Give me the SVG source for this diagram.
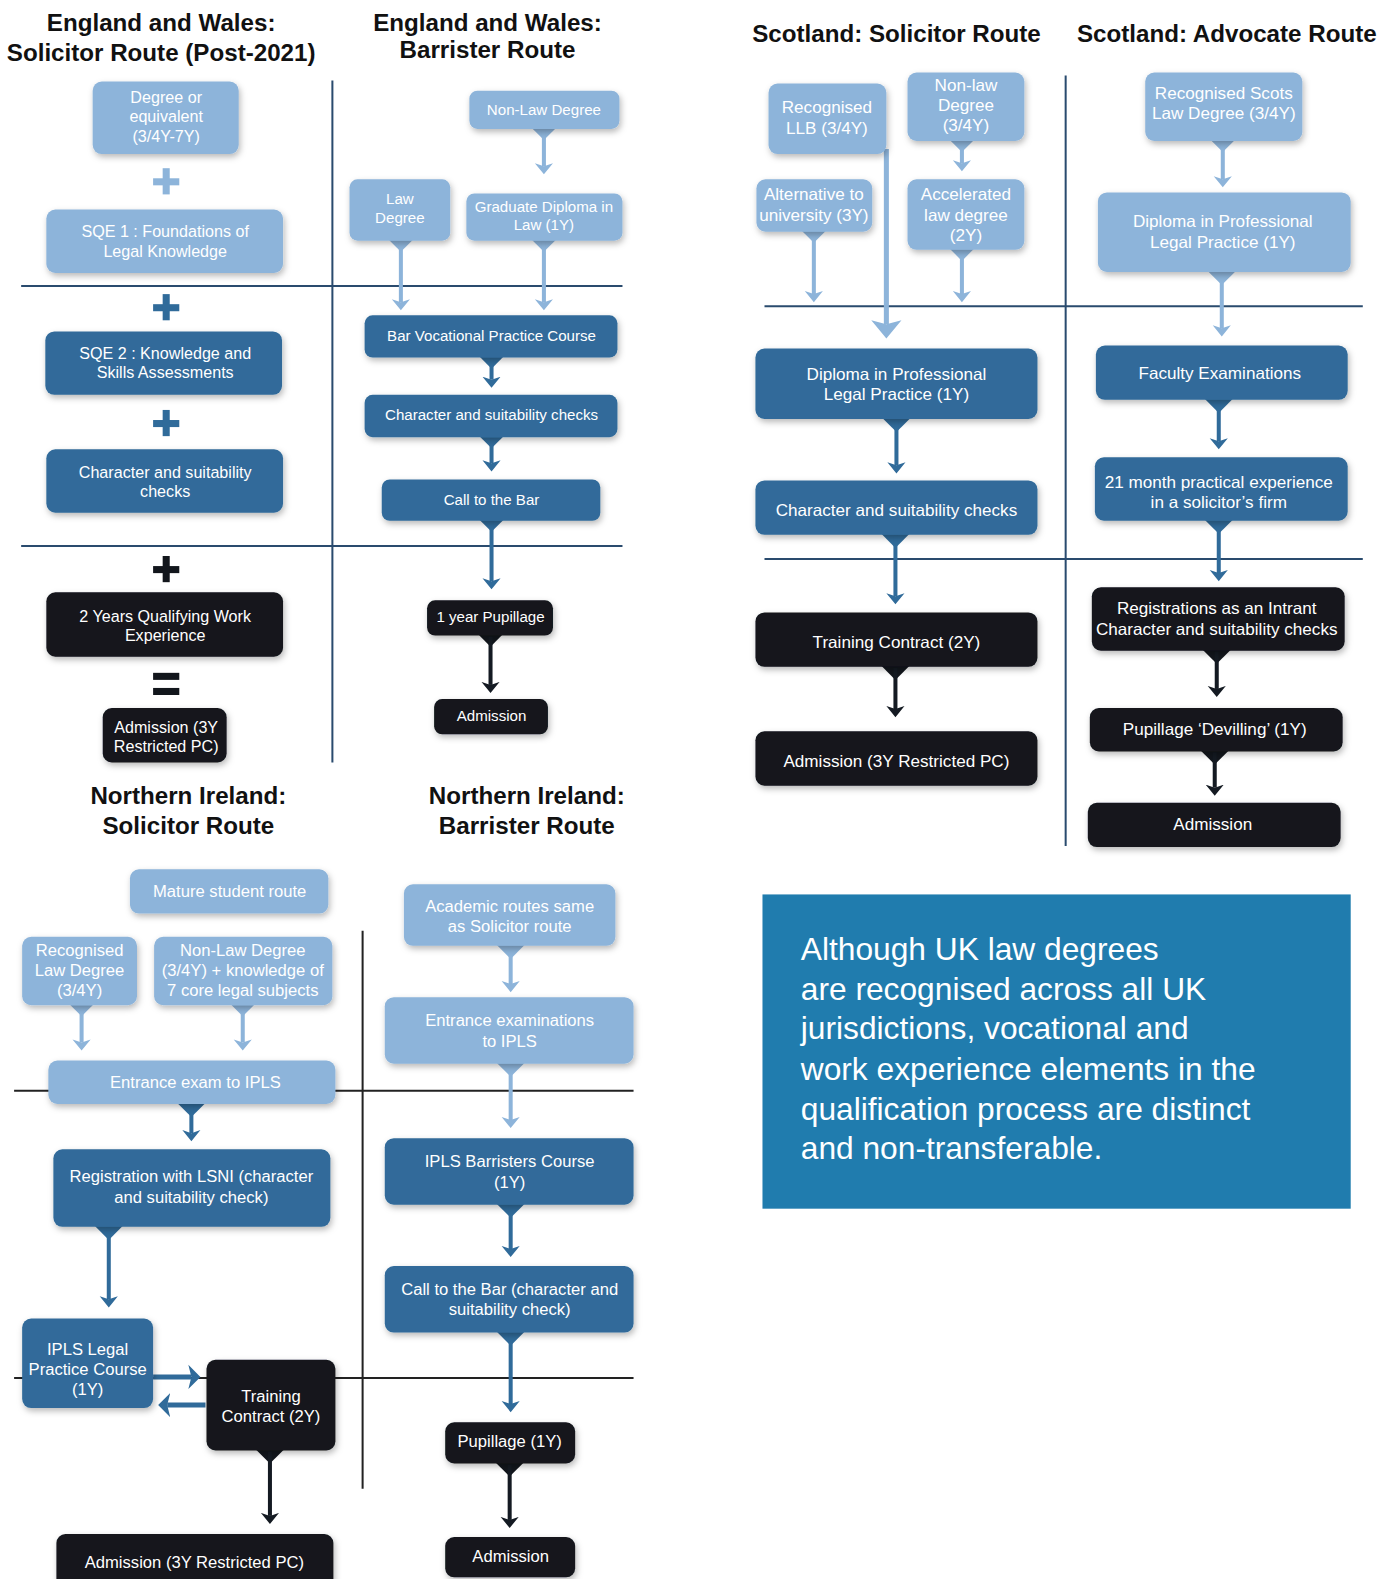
<svg xmlns="http://www.w3.org/2000/svg" width="1392" height="1579" viewBox="0 0 1392 1579">
<style>
.lt{fill:#8db4da}
.dk{fill:#306b9a}
.bk{fill:#12161c}
.t{font-family:"Liberation Sans",Arial,sans-serif;fill:#fff;text-anchor:middle}
.h{font-family:"Liberation Sans",Arial,sans-serif;font-weight:bold;font-size:24px;fill:#111;text-anchor:middle}
.f15{font-size:15px}.f16{font-size:16px}.f165{font-size:16.5px}.f17{font-size:17px}
.dv{stroke:#2a4b6e;stroke-width:2}
.dvk{stroke:#222;stroke-width:2}
.cl{stroke:#8db4da;stroke-width:4;fill:none}
.cd{stroke:#306b9a;stroke-width:4;fill:none}
.cb{stroke:#141a22;stroke-width:4;fill:none}
.bx{filter:url(#sh)}
</style>
<defs>
<filter id="sh" x="-10%" y="-10%" width="125%" height="135%">
<feDropShadow dx="1.5" dy="3" stdDeviation="3" flood-color="#000" flood-opacity="0.28"/>
</filter>
<marker id="mL" markerUnits="userSpaceOnUse" viewBox="0 -10 12 20" markerWidth="12" markerHeight="20" refX="3" refY="0" orient="auto"><path d="M0,-9 L3,0 L0,9 L11,0 Z" fill="#8db4da"/></marker>
<marker id="mD" markerUnits="userSpaceOnUse" viewBox="0 -10 12 20" markerWidth="12" markerHeight="20" refX="3" refY="0" orient="auto"><path d="M0,-9 L3,0 L0,9 L11,0 Z" fill="#306b9a"/></marker>
<marker id="mB" markerUnits="userSpaceOnUse" viewBox="0 -10 12 20" markerWidth="12" markerHeight="20" refX="3" refY="0" orient="auto"><path d="M0,-9 L3,0 L0,9 L11,0 Z" fill="#141a22"/></marker>
<marker id="mLB" markerUnits="userSpaceOnUse" viewBox="0 -16 20 32" markerWidth="20" markerHeight="32" refX="4" refY="0" orient="auto"><path d="M0,-15 L4,0 L0,15 L18,0 Z" fill="#8db4da"/></marker>
<marker id="mDH" markerUnits="userSpaceOnUse" viewBox="0 -13 14 26" markerWidth="14" markerHeight="26" refX="3" refY="0" orient="auto"><path d="M0,-12 L3,0 L0,12 L12,0 Z" fill="#306b9a"/></marker>
</defs>
<rect width="1392" height="1579" fill="#fff"/>
<g transform="scale(1.00724)">

<g id="titles">
<text class="h" x="160" y="31">England and Wales:</text>
<text class="h" x="160" y="61">Solicitor Route (Post-2021)</text>
<text class="h" x="484" y="31">England and Wales:</text>
<text class="h" x="484" y="58">Barrister Route</text>
<text class="h" x="890" y="42">Scotland: Solicitor Route</text>
<text class="h" x="1218" y="42">Scotland: Advocate Route</text>
<text class="h" x="187" y="798">Northern Ireland:</text>
<text class="h" x="187" y="828">Solicitor Route</text>
<text class="h" x="523" y="798">Northern Ireland:</text>
<text class="h" x="523" y="828">Barrister Route</text>
</g>

<g id="dividers">
<line class="dv" x1="330" y1="80" x2="330" y2="757"/>
<line class="dv" x1="21" y1="284" x2="618" y2="284"/>
<line class="dv" x1="21" y1="542" x2="618" y2="542"/>
<line class="dv" x1="1058" y1="75" x2="1058" y2="840"/>
<line class="dv" x1="759" y1="304" x2="1353" y2="304"/>
<line class="dv" x1="759" y1="555" x2="1353" y2="555"/>
<line class="dvk" x1="360" y1="924" x2="360" y2="1478"/>
<line class="dvk" x1="14" y1="1083" x2="629" y2="1083"/>
<line class="dvk" x1="14" y1="1368" x2="629" y2="1368"/>
</g>

<g id="operators">
<rect x="152" y="177" width="26" height="7" class="lt"/><rect x="161.5" y="167" width="7" height="26" class="lt"/>
<rect x="152" y="302" width="26" height="7" class="dk"/><rect x="161.5" y="292" width="7" height="26" class="dk"/>
<rect x="152" y="417" width="26" height="7" class="dk"/><rect x="161.5" y="407" width="7" height="26" class="dk"/>
<rect x="152" y="562" width="26" height="7" class="bk"/><rect x="161.5" y="552" width="7" height="26" class="bk"/>
<rect x="152" y="668" width="26" height="7" class="bk"/><rect x="152" y="683" width="26" height="7" class="bk"/>
</g>

<g id="connectors">
<!-- E&W barrister -->
<polygon class="lt" points="528,127 552,127 540,139"/><line class="cl" x1="540" y1="130" x2="540" y2="165" marker-end="url(#mL)"/>
<polygon class="lt" points="386,238 410,238 398,250"/><line class="cl" x1="398" y1="240" x2="398" y2="300" marker-end="url(#mL)"/>
<polygon class="lt" points="528,238 552,238 540,250"/><line class="cl" x1="540" y1="240" x2="540" y2="300" marker-end="url(#mL)"/>
<polygon class="dk" points="476,354 500,354 488,366"/><line class="cd" x1="488" y1="356" x2="488" y2="377" marker-end="url(#mD)"/>
<polygon class="dk" points="476,433 500,433 488,445"/><line class="cd" x1="488" y1="435" x2="488" y2="460" marker-end="url(#mD)"/>
<polygon class="dk" points="476,516 500,516 488,528"/><line class="cd" x1="488" y1="518" x2="488" y2="577" marker-end="url(#mD)"/>
<polygon class="bk" points="475,630 499,630 487,642"/><line class="cb" x1="487" y1="632" x2="487" y2="680" marker-end="url(#mB)"/>
<!-- Scotland solicitor -->
<polygon class="lt" points="943,139 967,139 955,151"/><line class="cl" x1="955" y1="141" x2="955" y2="162" marker-end="url(#mL)"/>
<polygon class="lt" points="796,229 820,229 808,241"/><line class="cl" x1="808" y1="231" x2="808" y2="292" marker-end="url(#mL)"/>
<polygon class="lt" points="943,247 967,247 955,259"/><line class="cl" x1="955" y1="249" x2="955" y2="292" marker-end="url(#mL)"/>
<line class="cl" style="stroke-width:5" x1="880" y1="148" x2="880" y2="322" marker-end="url(#mLB)"/>
<polygon class="dk" points="876,415 904,415 890,429"/><line class="cd" x1="890" y1="417" x2="890" y2="462" marker-end="url(#mD)"/>
<polygon class="dk" points="875,530 903,530 889,544"/><line class="cd" x1="889" y1="532" x2="889" y2="592" marker-end="url(#mD)"/>
<polygon class="bk" points="875,661 903,661 889,675"/><line class="cb" x1="889" y1="663" x2="889" y2="704" marker-end="url(#mB)"/>
<!-- Scotland advocate -->
<polygon class="lt" points="1202,139 1226,139 1214,151"/><line class="cl" x1="1214" y1="141" x2="1214" y2="178" marker-end="url(#mL)"/>
<polygon class="lt" points="1199,269 1227,269 1213,283"/><line class="cl" x1="1213" y1="271" x2="1213" y2="326" marker-end="url(#mL)"/>
<polygon class="dk" points="1196,396 1224,396 1210,410"/><line class="cd" x1="1210" y1="398" x2="1210" y2="438" marker-end="url(#mD)"/>
<polygon class="dk" points="1196,516 1224,516 1210,530"/><line class="cd" x1="1210" y1="518" x2="1210" y2="569" marker-end="url(#mD)"/>
<polygon class="bk" points="1194,645 1222,645 1208,659"/><line class="cb" x1="1208" y1="647" x2="1208" y2="684" marker-end="url(#mB)"/>
<polygon class="bk" points="1192,745 1220,745 1206,759"/><line class="cb" x1="1206" y1="747" x2="1206" y2="782" marker-end="url(#mB)"/>
<!-- NI solicitor -->
<polygon class="lt" points="69,997 93,997 81,1009"/><line class="cl" x1="81" y1="999" x2="81" y2="1035" marker-end="url(#mL)"/>
<polygon class="lt" points="229,997 253,997 241,1009"/><line class="cl" x1="241" y1="999" x2="241" y2="1035" marker-end="url(#mL)"/>
<polygon class="dk" points="176,1095 204,1095 190,1109"/><line class="cd" x1="190" y1="1097" x2="190" y2="1125" marker-end="url(#mD)"/>
<polygon class="dk" points="94,1217 122,1217 108,1231"/><line class="cd" x1="108" y1="1219" x2="108" y2="1290" marker-end="url(#mD)"/>
<line class="cd" style="stroke-width:5" x1="152" y1="1367" x2="190" y2="1367" marker-end="url(#mDH)"/>
<line class="cd" style="stroke-width:5" x1="204" y1="1395" x2="166" y2="1395" marker-end="url(#mDH)"/>
<polygon class="bk" points="254,1439 282,1439 268,1453"/><line class="cb" x1="268" y1="1441" x2="268" y2="1505" marker-end="url(#mB)"/>
<!-- NI barrister -->
<polygon class="lt" points="493,938 521,938 507,952"/><line class="cl" x1="507" y1="940" x2="507" y2="977" marker-end="url(#mL)"/>
<polygon class="lt" points="493,1055 521,1055 507,1069"/><line class="cl" x1="507" y1="1057" x2="507" y2="1112" marker-end="url(#mL)"/>
<polygon class="dk" points="493,1195 521,1195 507,1209"/><line class="cd" x1="507" y1="1197" x2="507" y2="1240" marker-end="url(#mD)"/>
<polygon class="dk" points="493,1322 521,1322 507,1336"/><line class="cd" x1="507" y1="1324" x2="507" y2="1394" marker-end="url(#mD)"/>
<polygon class="bk" points="492,1452 520,1452 506,1466"/><line class="cb" x1="506" y1="1454" x2="506" y2="1509" marker-end="url(#mB)"/>
</g>

<!-- England & Wales solicitor -->
<g id="ew-sol-degree"><rect class="lt bx" x="92" y="81" width="145" height="72" rx="9"/><text class="t f16" x="165" y="102.5">Degree or</text><text class="t f16" x="165" y="121.5">equivalent</text><text class="t f16" x="165" y="140.5">(3/4Y-7Y)</text></g>
<g id="ew-sol-sqe1"><rect class="lt bx" x="46" y="208" width="235" height="63" rx="9"/><text class="t f16" x="164" y="235.5">SQE 1 : Foundations of</text><text class="t f16" x="164" y="255.5">Legal Knowledge</text></g>
<g id="ew-sol-sqe2"><rect class="dk bx" x="45" y="329" width="235" height="63" rx="9"/><text class="t f16" x="164" y="356.5">SQE 2 : Knowledge and</text><text class="t f16" x="164" y="375.5">Skills Assessments</text></g>
<g id="ew-sol-character"><rect class="dk bx" x="46" y="446" width="235" height="63" rx="9"/><text class="t f16" x="164" y="474.5">Character and suitability</text><text class="t f16" x="164" y="493.5">checks</text></g>
<g id="ew-sol-qwe"><rect class="bk bx" x="46" y="588" width="235" height="64" rx="9"/><text class="t f16" x="164" y="617.5">2 Years Qualifying Work</text><text class="t f16" x="164" y="636.5">Experience</text></g>
<g id="ew-sol-admission"><rect class="bk bx" x="102" y="703" width="123" height="54" rx="9"/><text class="t f16" x="165" y="727.5">Admission (3Y</text><text class="t f16" x="165" y="746.5">Restricted PC)</text></g>

<!-- England & Wales barrister -->
<g id="ew-bar-nonlaw"><rect class="lt bx" x="466" y="90" width="149" height="38" rx="8"/><text class="t f15" x="540" y="114">Non-Law Degree</text></g>
<g id="ew-bar-law"><rect class="lt bx" x="347" y="178" width="100" height="61" rx="8"/><text class="t f15" x="397" y="203">Law</text><text class="t f15" x="397" y="221">Degree</text></g>
<g id="ew-bar-gdl"><rect class="lt bx" x="463" y="192" width="155" height="47" rx="8"/><text class="t f15" x="540" y="210">Graduate Diploma in</text><text class="t f15" x="540" y="228">Law (1Y)</text></g>
<g id="ew-bar-bvpc"><rect class="dk bx" x="362" y="313" width="251" height="42" rx="8"/><text class="t f15" x="488" y="339">Bar Vocational Practice Course</text></g>
<g id="ew-bar-character"><rect class="dk bx" x="362" y="392" width="251" height="42" rx="8"/><text class="t f15" x="488" y="417">Character and suitability checks</text></g>
<g id="ew-bar-call"><rect class="dk bx" x="379" y="476" width="217" height="41" rx="8"/><text class="t f15" x="488" y="501">Call to the Bar</text></g>
<g id="ew-bar-pupillage"><rect class="bk bx" x="424" y="596" width="125" height="35" rx="8"/><text class="t f15" x="487" y="618">1 year Pupillage</text></g>
<g id="ew-bar-admission"><rect class="bk bx" x="431" y="694" width="113" height="35" rx="8"/><text class="t f15" x="488" y="716">Admission</text></g>

<!-- Scotland solicitor -->
<g id="sc-sol-llb"><rect class="lt bx" x="763" y="83" width="117" height="70" rx="9"/><text class="t f17" x="821" y="112">Recognised</text><text class="t f17" x="821" y="133">LLB (3/4Y)</text></g>
<g id="sc-sol-nonlaw"><rect class="lt bx" x="901" y="72" width="116" height="68" rx="9"/><text class="t f17" x="959" y="90">Non-law</text><text class="t f17" x="959" y="110">Degree</text><text class="t f17" x="959" y="130">(3/4Y)</text></g>
<g id="sc-sol-alt"><rect class="lt bx" x="751" y="178" width="115" height="52" rx="9"/><text class="t f17" x="808" y="199">Alternative to</text><text class="t f17" x="808" y="219">university (3Y)</text></g>
<g id="sc-sol-accel"><rect class="lt bx" x="901" y="178" width="116" height="70" rx="9"/><text class="t f17" x="959" y="199">Accelerated</text><text class="t f17" x="959" y="219">law degree</text><text class="t f17" x="959" y="239">(2Y)</text></g>
<g id="sc-sol-diploma"><rect class="dk bx" x="750" y="346" width="280" height="70" rx="9"/><text class="t f17" x="890" y="377">Diploma in Professional</text><text class="t f17" x="890" y="397">Legal Practice (1Y)</text></g>
<g id="sc-sol-character"><rect class="dk bx" x="750" y="477" width="280" height="54" rx="9"/><text class="t f17" x="890" y="512">Character and suitability checks</text></g>
<g id="sc-sol-training"><rect class="bk bx" x="750" y="608" width="280" height="54" rx="9"/><text class="t f17" x="890" y="643">Training Contract (2Y)</text></g>
<g id="sc-sol-admission"><rect class="bk bx" x="750" y="726" width="280" height="54" rx="9"/><text class="t f17" x="890" y="761">Admission (3Y Restricted PC)</text></g>

<!-- Scotland advocate -->
<g id="sc-adv-degree"><rect class="lt bx" x="1137" y="72" width="156" height="68" rx="9"/><text class="t f17" x="1215" y="98">Recognised Scots</text><text class="t f17" x="1215" y="118">Law Degree (3/4Y)</text></g>
<g id="sc-adv-diploma"><rect class="lt bx" x="1090" y="191" width="251" height="79" rx="9"/><text class="t f17" x="1214" y="225">Diploma in Professional</text><text class="t f17" x="1214" y="246">Legal Practice (1Y)</text></g>
<g id="sc-adv-faculty"><rect class="dk bx" x="1088" y="343" width="250" height="54" rx="9"/><text class="t f17" x="1211" y="376">Faculty Examinations</text></g>
<g id="sc-adv-practical"><rect class="dk bx" x="1087" y="454" width="251" height="63" rx="9"/><text class="t f17" x="1210" y="484">21 month practical experience</text><text class="t f17" x="1210" y="504">in a solicitor’s firm</text></g>
<g id="sc-adv-intrant"><rect class="bk bx" x="1084" y="583" width="251" height="63" rx="9"/><text class="t f17" x="1208" y="610">Registrations as an Intrant</text><text class="t f17" x="1208" y="630">Character and suitability checks</text></g>
<g id="sc-adv-devilling"><rect class="bk bx" x="1082" y="703" width="251" height="43" rx="9"/><text class="t f17" x="1206" y="730">Pupillage ‘Devilling’ (1Y)</text></g>
<g id="sc-adv-admission"><rect class="bk bx" x="1080" y="797" width="251" height="44" rx="9"/><text class="t f17" x="1204" y="824">Admission</text></g>

<!-- Northern Ireland solicitor -->
<g id="ni-sol-mature"><rect class="lt bx" x="129" y="863" width="197" height="44" rx="9"/><text class="t f165" x="228" y="891">Mature student route</text></g>
<g id="ni-sol-law"><rect class="lt bx" x="22" y="930" width="114" height="68" rx="9"/><text class="t f165" x="79" y="949">Recognised</text><text class="t f165" x="79" y="969">Law Degree</text><text class="t f165" x="79" y="989">(3/4Y)</text></g>
<g id="ni-sol-nonlaw"><rect class="lt bx" x="153" y="930" width="177" height="68" rx="9"/><text class="t f165" x="241" y="949">Non-Law Degree</text><text class="t f165" x="241" y="969">(3/4Y) + knowledge of</text><text class="t f165" x="241" y="989">7 core legal subjects</text></g>
<g id="ni-sol-entrance"><rect class="lt bx" x="48" y="1053" width="285" height="43" rx="9"/><text class="t f165" x="194" y="1080">Entrance exam to IPLS</text></g>
<g id="ni-sol-lsni"><rect class="dk bx" x="53" y="1141" width="275" height="77" rx="9"/><text class="t f165" x="190" y="1174">Registration with LSNI (character</text><text class="t f165" x="190" y="1194">and suitability check)</text></g>
<g id="ni-sol-lpc"><rect class="dk bx" x="22" y="1309" width="130" height="89" rx="9"/><text class="t f165" x="87" y="1345">IPLS Legal</text><text class="t f165" x="87" y="1365">Practice Course</text><text class="t f165" x="87" y="1385">(1Y)</text></g>
<g id="ni-sol-training"><rect class="bk bx" x="205" y="1350" width="128" height="90" rx="9"/><text class="t f165" x="269" y="1392">Training</text><text class="t f165" x="269" y="1412">Contract (2Y)</text></g>
<g id="ni-sol-admission"><rect class="bk bx" x="56" y="1523" width="275" height="70" rx="9"/><text class="t f165" x="193" y="1557">Admission (3Y Restricted PC)</text></g>

<!-- Northern Ireland barrister -->
<g id="ni-bar-academic"><rect class="lt bx" x="401" y="878" width="210" height="61" rx="9"/><text class="t f165" x="506" y="905">Academic routes same</text><text class="t f165" x="506" y="925">as Solicitor route</text></g>
<g id="ni-bar-entrance"><rect class="lt bx" x="382" y="990" width="247" height="66" rx="9"/><text class="t f165" x="506" y="1019">Entrance examinations</text><text class="t f165" x="506" y="1039">to IPLS</text></g>
<g id="ni-bar-course"><rect class="dk bx" x="382" y="1130" width="247" height="66" rx="9"/><text class="t f165" x="506" y="1159">IPLS Barristers Course</text><text class="t f165" x="506" y="1179">(1Y)</text></g>
<g id="ni-bar-call"><rect class="dk bx" x="382" y="1257" width="247" height="66" rx="9"/><text class="t f165" x="506" y="1286">Call to the Bar (character and</text><text class="t f165" x="506" y="1306">suitability check)</text></g>
<g id="ni-bar-pupillage"><rect class="bk bx" x="442" y="1412" width="129" height="41" rx="9"/><text class="t f165" x="506" y="1437">Pupillage (1Y)</text></g>
<g id="ni-bar-admission"><rect class="bk bx" x="442" y="1526" width="129" height="40" rx="9"/><text class="t f165" x="507" y="1551">Admission</text></g>

<!-- Info panel -->
<g id="note">
<rect x="757" y="888" width="584" height="312" fill="#207cae"/>
<g font-family="Liberation Sans, Arial, sans-serif" font-size="31.5" fill="#fff">
<text x="795" y="953">Although UK law degrees</text>
<text x="795" y="993">are recognised across all UK</text>
<text x="795" y="1032">jurisdictions, vocational and</text>
<text x="795" y="1072">work experience elements in the</text>
<text x="795" y="1112">qualification process are distinct</text>
<text x="795" y="1151">and non-transferable.</text>
</g>
</g>
</g>
</svg>
